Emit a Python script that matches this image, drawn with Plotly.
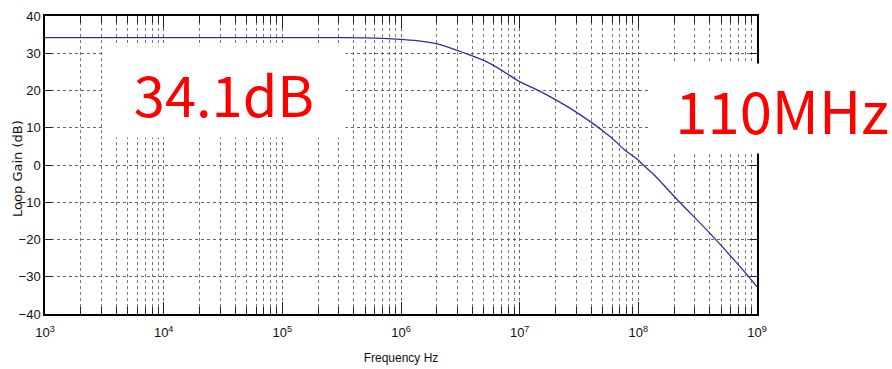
import plotly.graph_objects as go

freq_hz = [1e3, 1e4, 1e5, 3e5, 5e5, 7e5, 1e6, 1.5e6, 2.1e6, 3.2e6, 5.6e6, 1e7, 1.5e7, 2.8e7,
           5.8e7, 7.7e7, 1e8, 1.1e8, 1.4e8, 2.2e8, 4e8, 7.2e8, 1e9]
loop_gain_db = [34.2, 34.2, 34.2, 34.2, 34.15, 34.0, 33.7, 33.2, 32.4, 30.4, 27.3, 22.4, 19.7, 14.8,
                7.6, 4.0, 1.3, 0.0, -3.1, -9.8, -18.3, -27.3, -32.7]
x_tick_vals = [1e3, 1e4, 1e5, 1e6, 1e7, 1e8, 1e9]
x_tick_text = ["10<sup>3</sup>", "10<sup>4</sup>", "10<sup>5</sup>", "10<sup>6</sup>",
               "10<sup>7</sup>", "10<sup>8</sup>", "10<sup>9</sup>"]
y_tick_vals = [-40, -30, -20, -10, 0, 10, 20, 30, 40]
x_title = "Frequency Hz"
y_title = "Loop Gain (dB)"
gain_label = "34.1dB"
freq_label = "110MHz"

fig = go.Figure()
fig.add_trace(go.Scatter(x=freq_hz, y=loop_gain_db, mode="lines",
                         line=dict(color="#2e2ea0", width=1.3, shape="spline", smoothing=1.0),
                         showlegend=False))

tick_font = dict(family="Liberation Sans Narrow, Liberation Sans, Arial", size=13, color="#111")
fig.update_xaxes(type="log", range=[3, 9], tickvals=x_tick_vals, ticktext=x_tick_text,
                 ticks="inside", ticklen=12, tickcolor="#222", tickwidth=1,
                 showline=True, linecolor="black", linewidth=1.5, mirror="ticks",
                 showgrid=True, gridcolor="#666", griddash="dot", gridwidth=1,
                 minor=dict(ticks="inside", ticklen=7, tickcolor="#222", dtick="D1",
                            showgrid=True, gridcolor="#777", griddash="dot", gridwidth=1),
                 tickfont=tick_font, zeroline=False, automargin=False, ticklabelstandoff=6,
                 title=dict(text=x_title, font=dict(family="Liberation Sans Narrow, Arial", size=12, color="#111"), standoff=14))
fig.update_yaxes(range=[-40, 40], tickvals=y_tick_vals, ticks="inside", ticklen=7,
                 tickcolor="#222", showline=True, linecolor="black", linewidth=1.5,
                 mirror="ticks", showgrid=True, gridcolor="#666", griddash="dot",
                 gridwidth=1, zeroline=False, tickfont=tick_font, automargin=False)

fig.add_annotation(x=-0.038, y=0.49, xref="paper", yref="paper", text=y_title,
                   showarrow=False, textangle=-90, xanchor="center", yanchor="middle",
                   font=dict(family="DejaVu Sans", size=13, color="#111"))

fig.add_annotation(x=4.508, y=19.5, xref="x", yref="y", text=gain_label, showarrow=False,
                   font=dict(family="Noto Sans CJK JP", size=56, color="#ff0000"),
                   bgcolor="white", width=240, height=88)
fig.add_annotation(x=1.035, y=0.688, xref="paper", yref="paper", text=freq_label,
                   showarrow=False, xanchor="center", yanchor="middle",
                   font=dict(family="Noto Sans CJK JP", size=58, color="#ff0000"),
                   bgcolor="white", width=262, height=87)

fig.update_layout(width=892, height=369, margin=dict(l=45, r=135, t=16, b=55),
                  plot_bgcolor="white", paper_bgcolor="white")
fig.write_html("out.html")
